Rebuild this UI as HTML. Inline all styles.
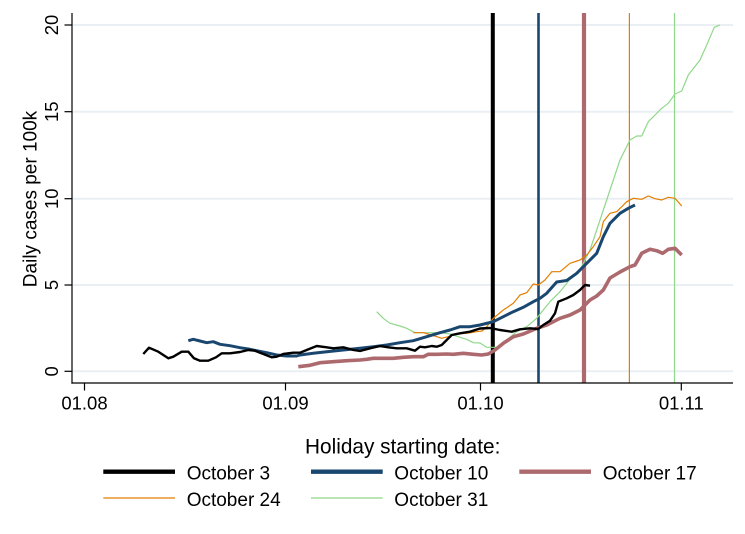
<!DOCTYPE html>
<html><head><meta charset="utf-8"><style>
html,body{margin:0;padding:0;background:#fff;}
svg{display:block;}
text{font-family:"Liberation Sans",Arial,sans-serif;fill:#000;}
</style></head><body>
<svg width="745" height="534" viewBox="0 0 745 534" xmlns="http://www.w3.org/2000/svg">
<rect width="745" height="534" fill="#fff"/>
<!-- gridlines -->
<g stroke="#eaeff4" stroke-width="2">
<line x1="72" y1="25" x2="733" y2="25"/>
<line x1="72" y1="111.7" x2="733" y2="111.7"/>
<line x1="72" y1="198.7" x2="733" y2="198.7"/>
<line x1="72" y1="285" x2="733" y2="285"/>
<line x1="72" y1="371.3" x2="733" y2="371.3"/>
</g>
<!-- vertical holiday lines -->
<line x1="492.8" y1="13" x2="492.8" y2="383" stroke="#000" stroke-width="4"/>
<line x1="538.5" y1="13" x2="538.5" y2="383" stroke="#1a476f" stroke-width="2.6"/>
<line x1="584" y1="13" x2="584" y2="383" stroke="#ad6a6e" stroke-width="4.2"/>
<line x1="629.4" y1="13" x2="629.4" y2="383" stroke="#e37e00" stroke-width="1.2"/>
<line x1="674.5" y1="13" x2="674.5" y2="383" stroke="#90d88a" stroke-width="1.2"/>
<!-- series -->
<g fill="none" stroke-linejoin="round" stroke-linecap="butt">
<polyline stroke="#90d88a" stroke-width="1.2" points="376.7,311.7 383.3,318.3 390,323.3 400,326 406.7,328.3 415,332.7 426.7,332.7 440,332.7 450,334 460,337.3 466.7,339.3 473.3,342.7 480,343 486.7,347.3 496.7,347.3 506.7,340 516.7,331.7 526.7,326.7 536.7,318.3 543.3,310 550,301.7 560,291.7 570,279.3 578.3,273.3 583.3,263.3 590,250 596.7,230 600,220 610,190 620,160 630,140 636.7,136 641.7,136 648.3,121.7 655,115 661.7,108.3 668.3,103.3 675,94 681.7,91 688.3,75 700,60 706.7,45 714.3,27.3 720,25"/>
<polyline stroke="#e37e00" stroke-width="1.2" points="413.3,332.7 423.3,332.7 431.7,335 441.7,338.3 448.3,336.7 456.7,334 466.7,333.3 476.7,331.7 482,331 486.7,326.7 493.3,318.3 503.3,310 513.3,303.3 520,295 526.7,292.7 533.3,284 538.3,285 545,280 551.7,271.7 560,271.7 570,263.3 580,260 586.7,255 593.3,246.7 600,236.7 603.3,221.7 610,213.3 616.7,211.7 626.7,201.7 633.3,198.3 641.7,199.3 648.3,196 655,198.7 661.7,200 668.3,197.3 675,198.3 681.7,206"/>
<polyline stroke="#ad6a6e" stroke-width="3.6" points="298.3,366.7 310,365.3 320,362.7 333.3,361.7 346.7,360.7 360,360 366.7,359.3 373.3,358.3 383.3,358.3 393.3,358.3 403.3,357.3 413.3,356.7 423.3,356.7 428.3,354.3 436.7,354.3 446.7,354 453.3,354.3 463.3,353.3 473.3,354.3 481.7,355 488.3,354 495,350 503.3,343.3 513.3,336.7 523.3,334 536.7,328.3 546.7,325 560,318.3 570,315 580,310 590,300 596.7,296 603.3,290 610,278 620,272 630,266.7 635,265 641.7,253.3 650,249.3 656.7,250.7 662.7,253.3 668.3,249.3 675,248.3 681.7,255"/>
<polyline stroke="#1a476f" stroke-width="3" points="188.3,340.7 193.3,339.3 200,341 206.7,342.7 213.3,341.7 220,344.3 230,345.7 240,347.7 248.3,349 256.7,350.7 266.7,352.7 276.7,355 286.7,356 296.7,356 300,355 313.3,353.3 326.7,351.7 343.3,350 360,348.3 373.3,346.7 386.7,345 400,342.7 413.3,340.7 426.7,336.7 440,332.7 450,330 460,326.7 470,326.7 480,325 493.3,321.7 503.3,316.7 513.3,311.7 523.3,307.3 533.3,301.7 540,298.3 546.7,293.3 556.7,282 566.7,280.5 576.7,273.3 586.7,263.3 596.7,253.3 603.3,236.7 610,223.3 620,213.3 628.3,208.3 635,205"/>
<polyline stroke="#000" stroke-width="2.4" points="143.3,354 149,347.7 158.3,351.7 168.3,358.3 173.3,356.7 181.7,351.7 188.3,351.7 194,358.3 200,360.7 208.3,360.7 216,357.3 221.7,353.3 230,353.3 240,352 248.3,350 255,350.7 263.3,354 271.7,357.3 276.7,356.7 283.3,354 293.3,352.7 300,352.7 306.7,350 316.7,346 326.7,347.3 333.3,348.3 343.3,347.3 353.3,350 360,351 370,348.3 380,346 388.3,347.3 396.7,348.3 406.7,348.3 415,350.7 420,346.7 425,347.3 431.7,346 436.7,346.7 441.7,345 446.7,340 451.7,335 460,333.3 470,331.7 480,328.5 490,328 500,330 511.7,331.7 520,329.3 530,328.3 538.3,329 543.3,325 550,320.7 555,313.3 558.3,301.7 566.7,298.3 573.3,295 580,290 585,285 590,285.7"/>
</g>
<!-- axes -->
<g stroke="#000" stroke-width="1.2">
<line x1="72" y1="13" x2="72" y2="383.6"/>
<line x1="71.4" y1="383" x2="733" y2="383"/>
<line x1="64.5" y1="25" x2="72" y2="25"/>
<line x1="64.5" y1="111.7" x2="72" y2="111.7"/>
<line x1="64.5" y1="198.7" x2="72" y2="198.7"/>
<line x1="64.5" y1="285" x2="72" y2="285"/>
<line x1="64.5" y1="371.3" x2="72" y2="371.3"/>
<line x1="84.5" y1="383" x2="84.5" y2="390.5"/>
<line x1="285.5" y1="383" x2="285.5" y2="390.5"/>
<line x1="480.5" y1="383" x2="480.5" y2="390.5"/>
<line x1="681.3" y1="383" x2="681.3" y2="390.5"/>
</g>
<!-- y tick labels -->
<g font-size="18.5" text-anchor="middle">
<text transform="translate(58,25) rotate(-90)">20</text>
<text transform="translate(58,111.7) rotate(-90)">15</text>
<text transform="translate(58,198.7) rotate(-90)">10</text>
<text transform="translate(58,285) rotate(-90)">5</text>
<text transform="translate(58,371.3) rotate(-90)">0</text>
</g>
<text transform="translate(36.5,199) rotate(-90)" font-size="19" text-anchor="middle">Daily cases per 100k</text>
<!-- x tick labels -->
<g font-size="18.5" text-anchor="middle">
<text x="84.5" y="409.3">01.08</text>
<text x="285.5" y="409.3">01.09</text>
<text x="480.5" y="409.3">01.10</text>
<text x="681.3" y="409.3">01.11</text>
</g>
<!-- legend -->
<text x="305" y="453.3" font-size="20.8">Holiday starting date:</text>
<line x1="103.3" y1="471.7" x2="175" y2="471.7" stroke="#000" stroke-width="4.3"/>
<line x1="311" y1="471.7" x2="382.7" y2="471.7" stroke="#1a476f" stroke-width="4.3"/>
<line x1="519.3" y1="471.7" x2="591" y2="471.7" stroke="#ad6a6e" stroke-width="4.3"/>
<line x1="103.3" y1="498" x2="175" y2="498" stroke="#e37e00" stroke-width="1.2"/>
<line x1="311" y1="498" x2="382.7" y2="498" stroke="#90d88a" stroke-width="1.2"/>
<g font-size="19">
<text x="186.7" y="479.3">October 3</text>
<text x="394.3" y="479.3">October 10</text>
<text x="602.7" y="479.3">October 17</text>
<text x="186.7" y="506">October 24</text>
<text x="394.3" y="506">October 31</text>
</g>
</svg>
</body></html>
